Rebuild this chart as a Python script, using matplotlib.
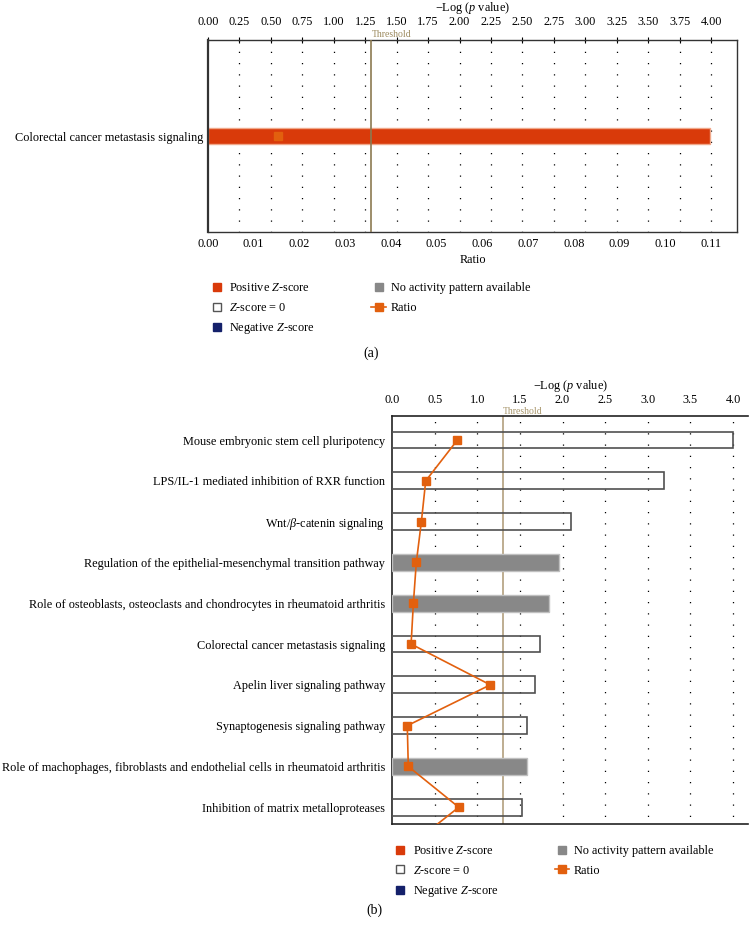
import numpy as np
import matplotlib
matplotlib.use('Agg')
import matplotlib.pyplot as plt
from matplotlib.lines import Line2D
from matplotlib import rcParams

rcParams['font.family'] = 'serif'
rcParams['font.serif'] = ['Liberation Serif']
rcParams['mathtext.fontset'] = 'custom'
rcParams['mathtext.rm'] = 'Liberation Serif'
rcParams['mathtext.it'] = 'Liberation Serif:italic'
rcParams['font.size'] = 8.8

# panel (a)
a_pathways = ['Colorectal cancer metastasis signaling']
a_logp = [3.99]
a_ratio = [0.0153]
a_status = ['positive']

# panel (b)
b_pathways = ['Mouse embryonic stem cell pluripotency',
              'LPS/IL-1 mediated inhibition of RXR function',
              r'Wnt/$\beta$-catenin signaling',
              'Regulation of the epithelial-mesenchymal transition pathway',
              'Role of osteoblasts, osteoclasts and chondrocytes in rheumatoid arthritis',
              'Colorectal cancer metastasis signaling',
              'Apelin liver signaling pathway',
              'Synaptogenesis signaling pathway',
              'Role of machophages, fibroblasts and endothelial cells in rheumatoid arthritis',
              'Inhibition of matrix metalloproteases']
b_logp = [4.0, 3.19, 2.10, 1.96, 1.84, 1.74, 1.68, 1.58, 1.58, 1.53]
b_status = ['zero', 'zero', 'zero', 'none', 'none', 'zero', 'zero', 'zero', 'none', 'zero']
# ratio line continues to one more (cut off) pathway below the view
b_ratio = [0.0514, 0.0265, 0.0231, 0.0191, 0.0168, 0.0150, 0.0773, 0.0120, 0.0128, 0.0525, 0.0118]

threshold = 1.30

RED = '#d93a0a'
NAVY = '#14206a'
GRAY = '#888888'
ORANGE = '#e2600e'
FS = 8.8


def draw_bars(ax, pos, vals, status, h):
    for y, v, s in zip(pos, vals, status):
        if s == 'positive':
            ax.barh(y, v, h, color=RED, edgecolor='#f0a88a', lw=1.0, zorder=2)
        elif s == 'negative':
            ax.barh(y, v, h, color=NAVY, edgecolor=NAVY, zorder=2)
        elif s == 'none':
            ax.barh(y, v, h, color=GRAY, edgecolor='#c0c0c0', lw=1.0, zorder=3)
        else:
            ax.barh(y, v, h, color='none', edgecolor='#505050', lw=1.2, zorder=3)


def legend_handles():
    sq = dict(marker='s', linestyle='none', markersize=6)
    return [Line2D([], [], color=RED, label='Positive $Z$-score', **sq),
            Line2D([], [], markerfacecolor='white', markeredgecolor='#555555',
                   markeredgewidth=1.0, label='$Z$-score = 0', **sq),
            Line2D([], [], color=NAVY, label='Negative $Z$-score', **sq),
            Line2D([], [], color=GRAY, label='No activity pattern available', **sq),
            Line2D([], [], color=ORANGE, marker='s', markersize=6, lw=1.2, label='Ratio')]


fig = plt.figure(figsize=(7.51, 9.30), dpi=100)

# ---------------- (a) ----------------
ax = fig.add_axes([0.277, 0.7505, 0.7044, 0.2065])
ax2 = ax.twiny()
ya = np.arange(len(a_pathways))
ax.vlines(np.arange(0.25, 4.01, 0.25), -0.5, 0.5, colors='black', lw=0.9,
          linestyles=(0, (1, 8)), zorder=1)
draw_bars(ax, ya, a_logp, a_status, 0.085)
ax.axvline(threshold, color='#8c7a52', lw=1.2, zorder=4)
ax.text(threshold, -0.503, 'Threshold', color='#9c8a5e', fontsize=7,
        ha='left', va='bottom')
ax.set_xlim(0, 4.207)
ax.set_ylim(0.5, -0.5)
ax.set_yticks(ya)
ax.set_yticklabels(a_pathways, fontsize=FS)
ax.tick_params(axis='y', length=0, pad=3)
ax.xaxis.tick_top()
ax.xaxis.set_label_position('top')
ax.set_xticks(np.arange(0, 4.01, 0.25))
ax.set_xticklabels(['%.2f' % v for v in np.arange(0, 4.01, 0.25)], fontsize=FS)
ax.tick_params(axis='x', direction='inout', length=5, width=0.8, pad=6)
ax.set_xlabel('$-$Log ($p$ value)', fontsize=FS, labelpad=4)
for s in ax.spines.values():
    s.set_color('#333333')
    s.set_linewidth(1.0)
ax.spines['left'].set_linewidth(1.6)

ax2.plot(a_ratio, ya, color=ORANGE, marker='s', markersize=6, lw=1.2, zorder=5)
ax2.set_xlim(0, 0.1157)
ax2.xaxis.tick_bottom()
ax2.xaxis.set_label_position('bottom')
ax2.set_xticks(np.arange(0, 0.111, 0.01))
ax2.set_xticklabels(['%.2f' % v for v in np.arange(0, 0.111, 0.01)], fontsize=FS)
ax2.tick_params(axis='x', length=0, pad=4)
ax2.set_xlabel('Ratio', fontsize=FS, labelpad=3)
for s in ax2.spines.values():
    s.set_visible(False)

fig.legend(handles=legend_handles(), loc='upper left', bbox_to_anchor=(0.273, 0.7015),
           ncol=2, frameon=False, fontsize=FS, handlelength=1.2, handletextpad=0.4,
           columnspacing=4.6, labelspacing=0.6, borderaxespad=0)
fig.text(0.494, 0.620, '(a)', fontsize=10, ha='center', va='center')

# ---------------- (b) ----------------
bx = fig.add_axes([0.522, 0.114, 0.474, 0.4387])
bx2 = bx.twiny()
yb = np.arange(len(b_pathways))
bx.vlines(np.arange(0.5, 4.01, 0.5), -1, 10, colors='black', lw=0.9,
          linestyles=(0, (1, 8)), zorder=1)
bx.axvline(threshold, color='#b3a07e', lw=1.2, zorder=2)
draw_bars(bx, yb, b_logp, b_status, 0.41)
bx.text(threshold, -0.60, 'Threshold', color='#a8966c', fontsize=7,
        ha='left', va='bottom')
bx.set_xlim(0, 4.176)
bx.set_ylim(9.41, -0.59)
bx.set_yticks(yb)
bx.set_yticklabels(b_pathways, fontsize=FS)
bx.tick_params(axis='y', length=0, pad=5)
bx.xaxis.tick_top()
bx.xaxis.set_label_position('top')
bx.set_xticks(np.arange(0, 4.01, 0.5))
bx.set_xticklabels(['%.1f' % v for v in np.arange(0, 4.01, 0.5)], fontsize=FS)
bx.tick_params(axis='x', length=0, pad=7)
bx.set_xlabel('$-$Log ($p$ value)', fontsize=FS, labelpad=4)
bx.spines['right'].set_visible(False)
for s in ['top', 'bottom', 'left']:
    bx.spines[s].set_color('#222222')
    bx.spines[s].set_linewidth(1.2)

bx2.plot(b_ratio, np.arange(len(b_ratio)), color=ORANGE, marker='s', markersize=6,
         lw=1.2, zorder=5)
bx2.set_xlim(0, 0.28)
bx2.set_ylim(9.41, -0.59)
bx2.set_xticks([])
for s in bx2.spines.values():
    s.set_visible(False)

fig.legend(handles=legend_handles(), loc='upper left', bbox_to_anchor=(0.517, 0.0962),
           ncol=2, frameon=False, fontsize=FS, handlelength=1.2, handletextpad=0.4,
           columnspacing=4.6, labelspacing=0.6, borderaxespad=0)
fig.text(0.498, 0.021, '(b)', fontsize=10, ha='center', va='center')

fig.savefig('out.png', dpi=100)
